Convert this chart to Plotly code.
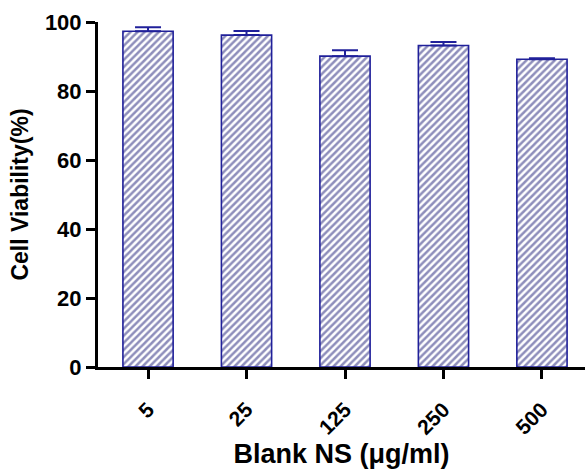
import plotly.graph_objects as go

categories = ["5", "25", "125", "250", "500"]
viability = [97.3, 96.2, 90.1, 93.2, 89.2]
errors = [1.2, 1.2, 1.7, 1.0, 0.3]

navy = "#20209a"
hatch = "#1e1e78"

fig = go.Figure()
fig.add_trace(go.Bar(
    x=categories, y=viability,
    width=0.51,
    marker=dict(
        color="white",
        line=dict(color=navy, width=1.6),
        pattern=dict(shape="/", fgcolor=hatch, bgcolor="white", size=5, solidity=0.5, fillmode="overlay"),
    ),
    error_y=dict(type="data", array=errors, arrayminus=[0]*5, symmetric=False,
                 color=navy, thickness=2, width=13),
))

fam = "Liberation Sans, Arial"
fig.update_layout(
    width=585, height=474,
    margin=dict(l=98, r=0, t=22, b=107),
    paper_bgcolor="white", plot_bgcolor="white",
    showlegend=False,
    font=dict(family=fam, size=22, color="black"),
    xaxis=dict(
        type="category", range=[-0.508, 4.437],
        showline=True, linecolor="black", linewidth=3,
        ticks="outside", ticklen=9, tickwidth=3, tickcolor="black",
        ticklabelstandoff=10,
        tickangle=-45, tickfont=dict(family=fam, size=21, color="black", weight="bold"),
        title=dict(text="<b>Blank NS (μg/ml)</b>", font=dict(family=fam, size=27), standoff=6),
        showgrid=False, zeroline=False,
    ),
    yaxis=dict(
        range=[0, 100], tickvals=[0, 20, 40, 60, 80, 100],
        showline=True, linecolor="black", linewidth=3,
        ticks="outside", ticklen=9, tickwidth=3, tickcolor="black",
        tickfont=dict(family=fam, size=22, color="black", weight="bold"),
        title=dict(text="<b>Cell Viability(%)</b>", font=dict(family=fam, size=23), standoff=10),
        showgrid=False, zeroline=False,
    ),
)
fig.write_html("out.html")
